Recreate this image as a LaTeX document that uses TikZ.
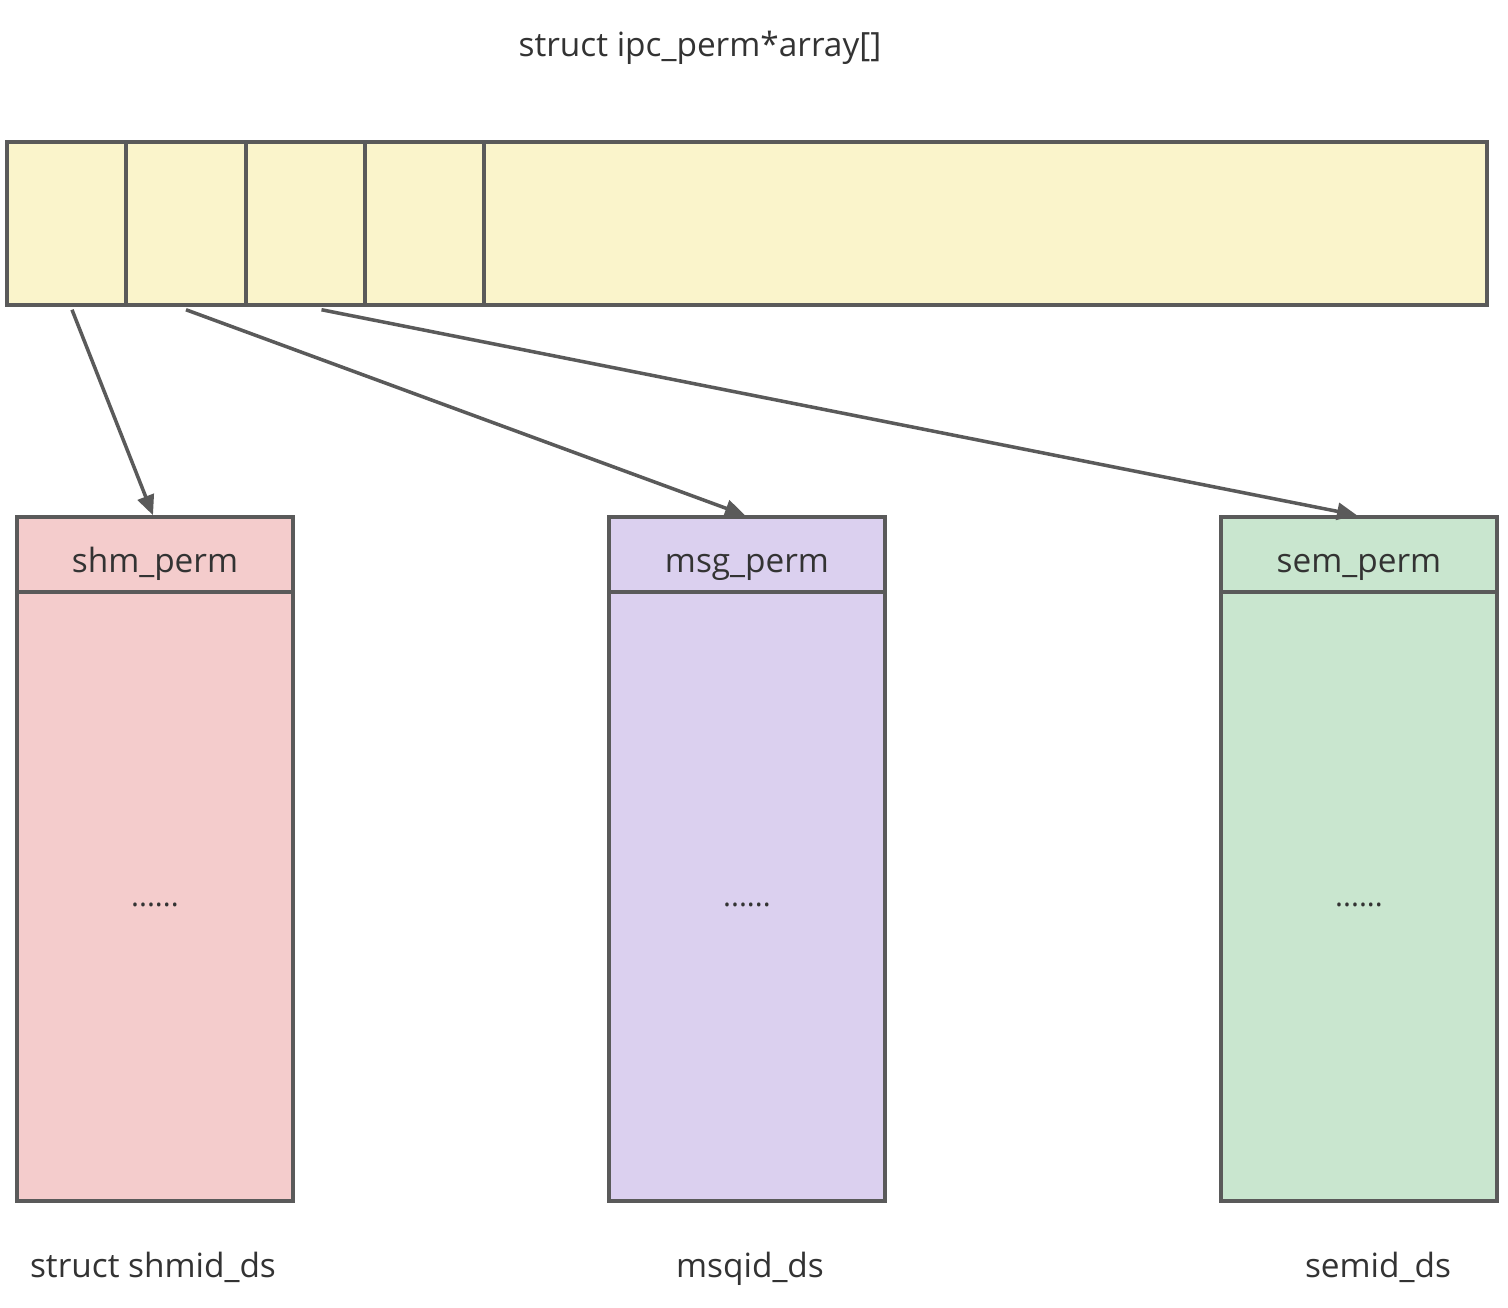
\documentclass[tikz,border=0pt]{standalone}
\usepackage{fontspec}
\setmainfont{Open Sans}
\usetikzlibrary{arrows.meta}

\definecolor{lineg}{HTML}{5A5A5A}
\definecolor{txtg}{HTML}{333333}
\definecolor{yellowc}{HTML}{FAF4CB}
\definecolor{pinkc}{HTML}{F4CCCC}
\definecolor{purplec}{HTML}{DBD0EF}
\definecolor{greenc}{HTML}{C9E6CF}

\tikzset{
	cell/.style={draw=lineg, line width=2pt, inner sep=0pt, fill=yellowc,
		minimum height=3.26cm},
	head/.style={draw=lineg, line width=2pt, inner sep=0pt,
		minimum width=5.52cm, minimum height=1.5cm},
	body/.style={draw=lineg, line width=2pt, inner sep=0pt,
		minimum width=5.52cm, minimum height=12.18cm},
	lbl/.style={text=txtg, anchor=base, inner sep=0pt, font=\fontsize{19}{22}\selectfont},
	dots/.style={text=txtg, anchor=base, inner sep=0pt, font=\fontsize{17}{20}\selectfont},
	ptr/.style={draw=lineg, line width=2pt, -{Triangle[length=0.4cm,width=0.34cm]}}
}

\begin{document}
\begin{tikzpicture}[x=0.02cm,y=-0.02cm]

\useasboundingbox (0,0) rectangle (1508,1308);

\node[lbl] (title) at (700,57) {struct ipc\_perm*array[]};

% the array
\node[cell, minimum width=2.38cm] (c1) at (66.5,223.5) {};
\node[cell, minimum width=2.4cm] (c2) at (186,223.5) {};
\node[cell, minimum width=2.38cm] (c3) at (305.5,223.5) {};
\node[cell, minimum width=2.38cm] (c4) at (424.5,223.5) {};
\node[cell, minimum width=20.06cm] (rest) at (985.5,223.5) {};

% the three structs
\node[head, fill=pinkc] (shm) at (155,554.5) {};
\node[body, fill=pinkc] (shmb) at (155,896.5) {};
\node[lbl] (shmp) at (155,572) {shm\_perm};
\node[dots] (shmd) at (155,906) {......};

\node[head, fill=purplec] (msg) at (747,554.5) {};
\node[body, fill=purplec] (msgb) at (747,896.5) {};
\node[lbl] (msgp) at (747,572) {msg\_perm};
\node[dots] (msgd) at (747,906) {......};

\node[head, fill=greenc] (sem) at (1359,554.5) {};
\node[body, fill=greenc] (semb) at (1359,896.5) {};
\node[lbl] (semp) at (1359,572) {sem\_perm};
\node[dots] (semd) at (1359,906) {......};

\node[lbl] (shmds) at (153,1277) {struct shmid\_ds};
\node[lbl] (msgds) at (750,1277) {msqid\_ds};
\node[lbl] (semds) at (1378,1277) {semid\_ds};

\draw[ptr] ([xshift=0.11cm,yshift=-0.06cm]c1.south) -- ([xshift=-0.04cm]shm.north);
\draw[ptr] ([yshift=-0.06cm]c2.south) -- ([xshift=-0.04cm]msg.north);
\draw[ptr] ([xshift=0.32cm,yshift=-0.06cm]c3.south) -- ([xshift=-0.04cm]sem.north);

\end{tikzpicture}
\end{document}
